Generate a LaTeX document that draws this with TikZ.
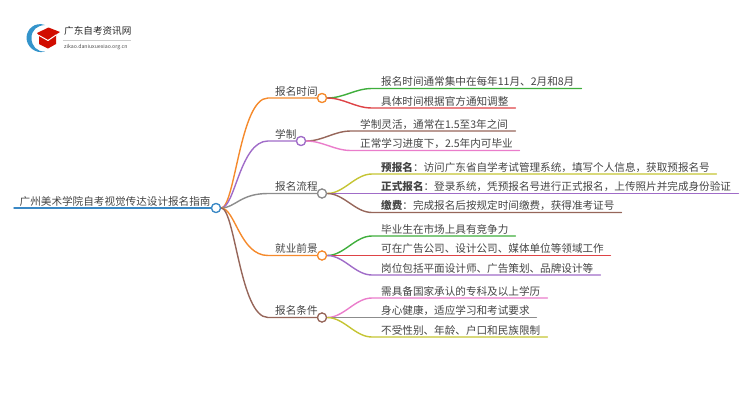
\documentclass[tikz,border=0pt]{standalone}
\usepackage{fontspec}
\setmainfont{Noto Sans CJK SC}
\definecolor{corange}{HTML}{F58A2C}
\definecolor{cblue}{HTML}{3A88C5}
\definecolor{cpurple}{HTML}{A06CC8}
\definecolor{cgray}{HTML}{8C8C8C}
\definecolor{cbrown}{HTML}{96665A}
\definecolor{cgreen}{HTML}{3FAE3C}
\definecolor{cred}{HTML}{DE4346}
\definecolor{cpink}{HTML}{EA7DCB}
\definecolor{colive}{HTML}{C5C433}
\definecolor{txt}{HTML}{444444}
\tikzset{
 hub/.style={circle,draw=#1,line width=1.2pt,fill=white,minimum size=9pt,inner sep=0pt},
 tree/.style={line width=1.4pt,line cap=round},
 lbl/.style={anchor=south west,inner xsep=0pt,inner ysep=1pt,text=txt,font=\fontsize{10.6pt}{12pt}\selectfont,text height=9.5pt,text depth=1.5pt,align=left},
}
\newcommand{\branch}[3]{\draw[tree,#1] (#2.east) .. controls +(17,0) and +(-17,0) .. ([xshift=-9pt]#3.south west) -- (#3.south east);}
\newcommand{\stem}[3]{\draw[tree,#1] (c0.east) .. controls +(14,0) and +(-28,0) .. ([xshift=-7pt]#3.south west) -- (#2.west);}
\begin{document}
\begin{tikzpicture}[x=1pt,y=-1pt]
\useasboundingbox (0,0) rectangle (750,410);
% logo
\fill[cblue!90!cyan] (45,25) .. controls (35,21.5) and (26.5,29) .. (26.5,38) .. controls (26.5,46) and (35,54.5) .. (45,51.5) .. controls (37,52) and (31.5,46) .. (31.5,38) .. controls (31.5,30) and (37,25.5) .. (45,25) -- cycle;
\fill[red!80!black!90!orange] (37,33) -- (48.5,27.5) -- (60,32) -- (56,34.5) -- (56,44) -- (48,48.5) -- (39,44) -- (39,35) -- cycle;
\draw[white,line width=1pt] (39,35.5) -- (48,40.5) -- (56,35);
\node[anchor=west,inner sep=0pt,text=black!85,font=\fontsize{9.6pt}{11pt}\selectfont] (logot) at (64,31) {广东自考资讯网};
\draw[black!20,line width=.5pt] (63,40.5) -- (131,40.5);
\node[anchor=west,inner sep=0pt,text=black!70,font=\fontsize{5.2pt}{6pt}\selectfont] (logou) at (64,47) {zikao.daniuxuexiao.org.cn};
% root and hubs
\node[hub=cblue] (c0) at (216,208) {};
\node[hub=corange] (c1) at (322,98) {};
\node[hub=cpurple] (c2) at (301,141) {};
\node[hub=cgray] (c3) at (322,193.5) {};
\node[hub=corange] (c4) at (322,255.5) {};
\node[hub=cbrown] (c5) at (322,317.5) {};
% first level labels
\node[lbl] (r) at (19.5,208) {广州美术学院自考视觉传达设计报名指南};
\node[lbl] (t1) at (275,98) {报名时间};
\node[lbl] (t2) at (275,141) {学制};
\node[lbl] (t3) at (275,193.5) {报名流程};
\node[lbl] (t4) at (275,255.5) {就业前景};
\node[lbl] (t5) at (275,317.5) {报名条件};
% leaves
\node[lbl,text width=200pt] (a1) at (381,88.5) {报名时间通常集中在每年11月、2月和8月};
\node[lbl,text width=134pt] (a2) at (381,108) {具体时间根据官方通知调整};
\node[lbl,text width=155pt] (b1) at (360,131) {学制灵活，通常在1.5至3年之间};
\node[lbl,text width=159pt] (b2) at (360,150.5) {正常学习进度下，2.5年内可毕业};
\node[lbl,text width=335pt] (d1) at (381,174) {\textbf{预报名}：访问广东省自学考试管理系统，填写个人信息，获取预报名号};
\node[lbl,text width=357pt] (d2) at (381,193.5) {\textbf{正式报名}：登录系统，凭预报名号进行正式报名，上传照片并完成身份验证};
\node[lbl,text width=240pt] (d3) at (381,212.5) {\textbf{缴费}：完成报名后按规定时间缴费，获得准考证号};
\node[lbl,text width=134pt] (e1) at (381,236) {毕业生在市场上具有竞争力};
\node[lbl,text width=229pt] (e2) at (381,255.5) {可在广告公司、设计公司、媒体单位等领域工作};
\node[lbl,text width=219pt] (e3) at (381,275) {岗位包括平面设计师、广告策划、品牌设计等};
\node[lbl,text width=166pt] (f1) at (381,298) {需具备国家承认的专科及以上学历};
\node[lbl,text width=155pt] (f2) at (381,317.5) {身心健康，适应学习和考试要求};
\node[lbl,text width=166pt] (f3) at (381,337) {不受性别、年龄、户口和民族限制};
% connectors
\draw[tree,cblue] (r.south west) ++(-5.5,0) -- (c0.west);
\stem{corange}{c1}{t1}
\stem{cpurple}{c2}{t2}
\stem{cgray}{c3}{t3}
\stem{corange}{c4}{t4}
\stem{cbrown}{c5}{t5}
\branch{cgreen}{c1}{a1}
\branch{cred}{c1}{a2}
\branch{cbrown}{c2}{b1}
\branch{cpink}{c2}{b2}
\branch{colive}{c3}{d1}
\branch{cpurple}{c3}{d2}
\branch{cbrown}{c3}{d3}
\branch{cgreen}{c4}{e1}
\branch{cred}{c4}{e2}
\branch{cpurple}{c4}{e3}
\branch{cpink}{c5}{f1}
\branch{cgray}{c5}{f2}
\branch{colive}{c5}{f3}
% hubs on top
\foreach \n/\k in {c0/cblue,c1/corange,c2/cpurple,c3/cgray,c4/corange,c5/cbrown}{\node[hub=\k] at (\n) {};}
\end{tikzpicture}
\end{document}
